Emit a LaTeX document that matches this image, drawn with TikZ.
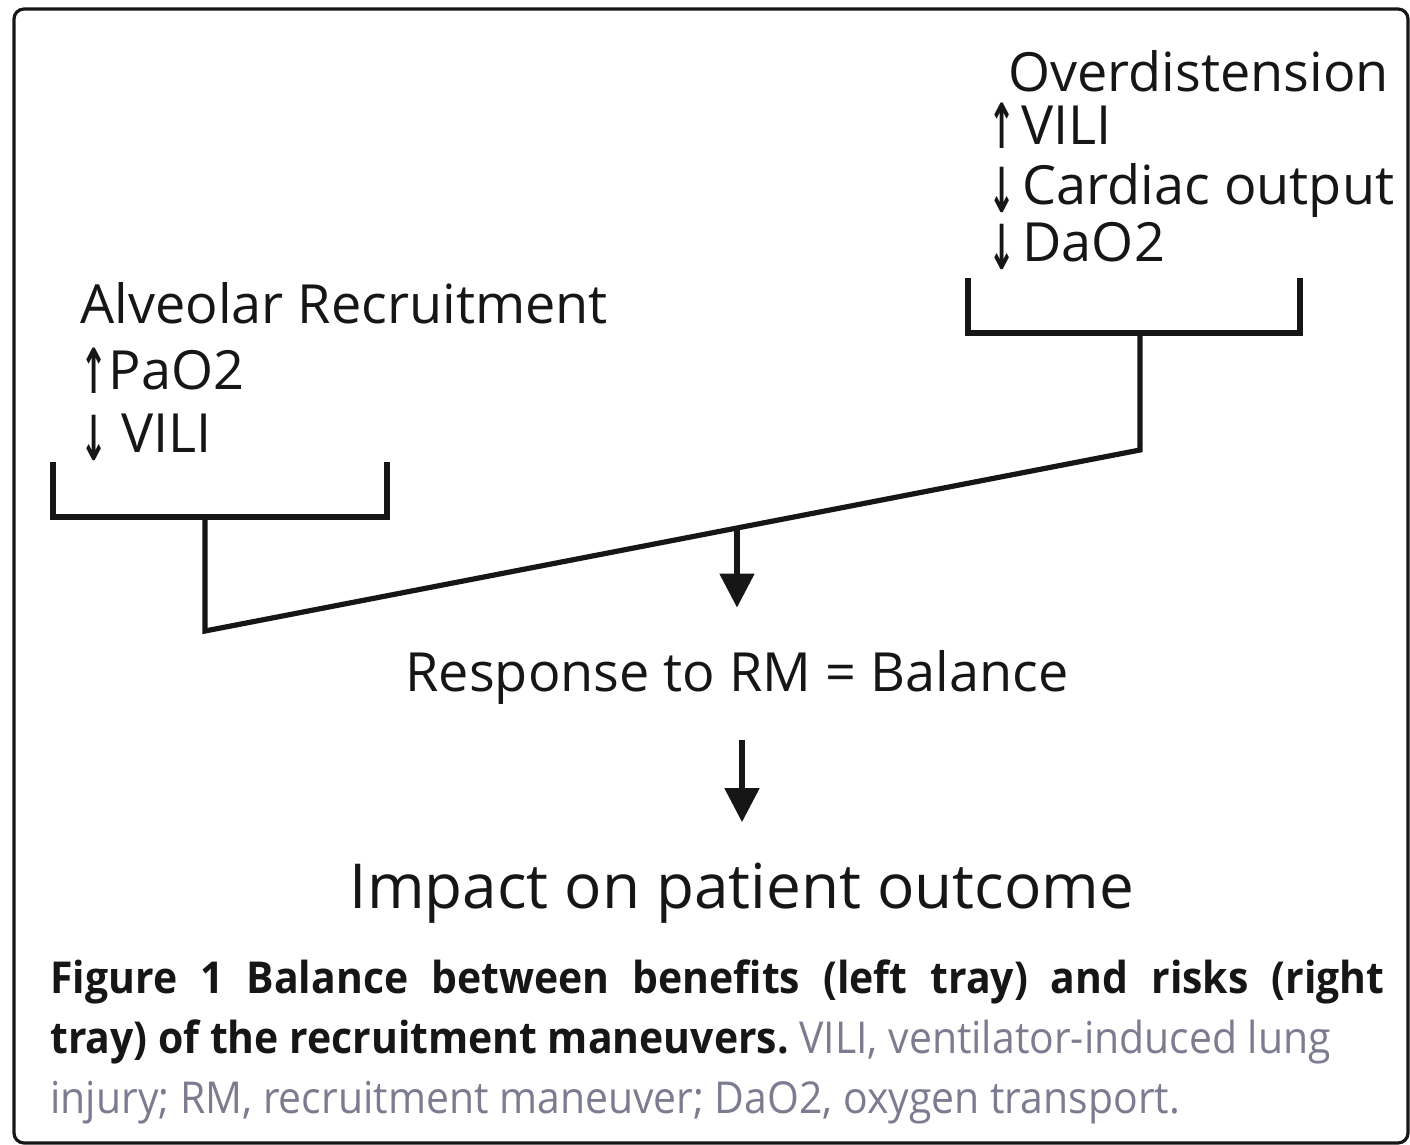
\documentclass[tikz,border=0pt]{standalone}
\usepackage{fontspec}
\setmainfont{Open Sans}
\newfontfamily\arrowfont{DejaVu Sans}
\newfontfamily\capfont[FakeStretch=0.93]{Open Sans}
\usepackage{tikz}
\usetikzlibrary{positioning,arrows.meta,calc}
\definecolor{inkblack}{HTML}{161616}
\definecolor{capgray}{HTML}{7C7C90}
\newcommand{\uparr}{\smash{\raisebox{-2pt}{\scalebox{0.6}[1.15]{\arrowfont\bfseries ↑}}}}
\newcommand{\dnarr}{\smash{\raisebox{-4pt}{\scalebox{0.6}[1.15]{\arrowfont\bfseries ↓}}}}

\begin{document}
\begin{tikzpicture}[
    x=0.5pt, y=-0.5pt,
    frame/.style={draw=inkblack, line width=1.6pt, rounded corners=5pt},
    tray/.style={draw=inkblack, line width=2.6pt, line join=miter},
    arrow/.style={-{Triangle[width=17pt,length=17pt]}, line width=2.6pt,
                  draw=inkblack, fill=inkblack},
    txt/.style={font=\fontsize{27}{32}\selectfont, text=inkblack,
                inner sep=0pt, anchor=base west},
    bigtxt/.style={font=\fontsize{31}{36}\selectfont, text=inkblack,
                   inner sep=0pt, anchor=base},
    caption/.style={font=\capfont\fontsize{22}{30}\selectfont, text=inkblack,
                    inner sep=0pt, anchor=base west, text width=667pt,
                    align=justify},
]
\useasboundingbox (0,0) rectangle (1410,1145);

% outer frame
\draw[frame] (14,9) rectangle (1408,1143);

% left tray: benefits
\node[txt] (alv) at (80,323) {Alveolar Recruitment};
\node[txt] (pao) at ([yshift=-33pt]alv.base west) {\uparr\hspace{0.5pt}PaO2};
\node[txt] (vilil) at ([yshift=-31.5pt]pao.base west) {\dnarr\hspace{7pt}VILI};

% right tray: risks
\node[txt] (overd) at (1008,92) {Overdistension};
\node[txt] (vilir) at ([xshift=-10pt, yshift=-26.5pt]overd.base west)
    {\uparr\hspace{3pt}VILI};
\node[txt] (card) at ([yshift=-30pt]vilir.base west)
    {\dnarr\hspace{3.5pt}Cardiac output};
\node[txt] (dao) at ([yshift=-28.5pt]card.base west) {\dnarr\hspace{3.5pt}DaO2};

% balance beam
\coordinate (ltray) at (205,517);
\coordinate (lfoot) at (205,631);
\coordinate (rfoot) at (1140,450);
\coordinate (rtray) at (1140,333);
\coordinate (pivot) at (737,528);
\draw[tray] (53,462) -- (53,517) -- (387,517) -- (387,462);
\draw[tray] (968,278) -- (968,333) -- (1300,333) -- (1300,278);
\draw[tray] (ltray) -- (lfoot) -- (rfoot) -- (rtray);

% outcome
\node[txt, anchor=base] (resp) at (737,691) {Response to RM = Balance};
\node[bigtxt] (impact) at (742,908) {Impact on patient outcome};

\draw[arrow, shorten >=21pt] (pivot) -- (pivot |- resp.north);
\draw[arrow, shorten <=18pt, shorten >=20pt]
    (resp.south -| impact.north) -- (impact.north);

% caption
\node[caption] (cap) at (50,993)
    {\bfseries Figure 1 Balance between benefits (left tray) and risks (right\linebreak
     tray) of the recruitment maneuvers.\mdseries\ {\color{capgray}VILI,
     ventilator-induced lung\newline injury; RM, recruitment maneuver; DaO2,
     oxygen transport.}};

\end{tikzpicture}
\end{document}
